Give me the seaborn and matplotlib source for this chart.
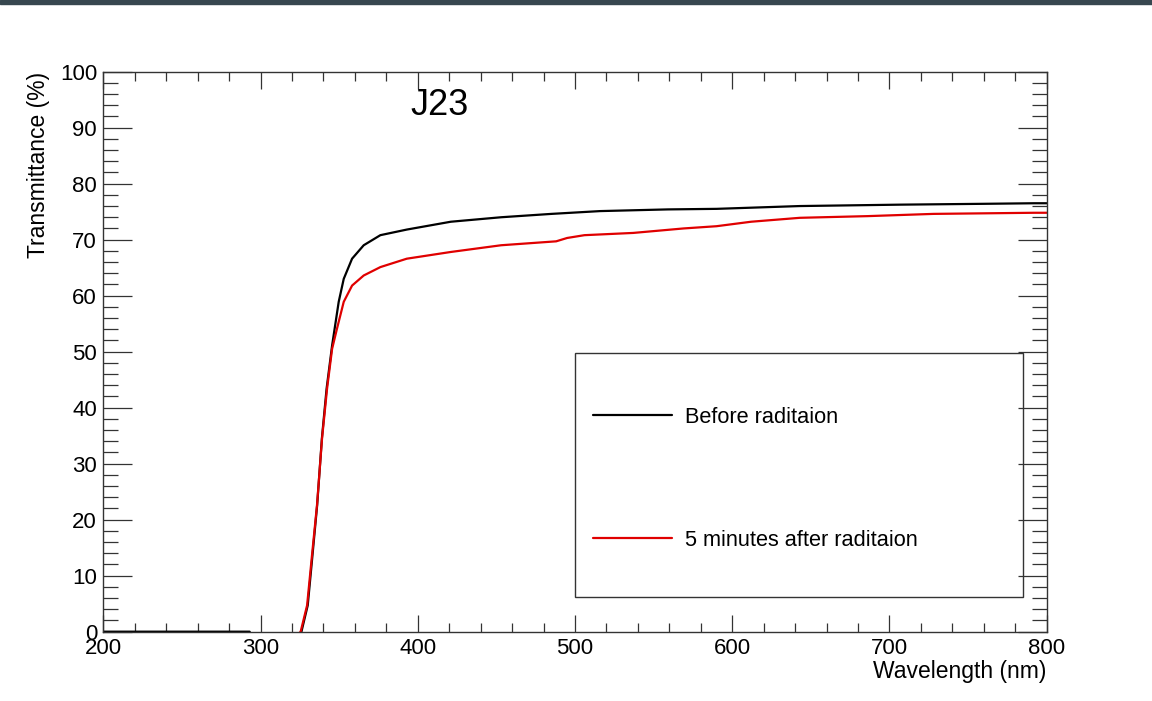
import numpy as np
import pandas as pd
import matplotlib
matplotlib.use("Agg")
import matplotlib.pyplot as plt
import seaborn as sns
from matplotlib.ticker import MultipleLocator
from matplotlib.patches import Rectangle

# Donnees (longueur d'onde en nm, transmittance en %)
wl_before = [200, 293, 295, 324, 326, 330, 333, 336, 339, 342, 345.5, 349.7, 352.9,
             358.2, 365.6, 376.2, 393, 421, 453, 485, 516, 559, 590, 643, 707, 760, 792, 800]
t_before = [0, 0, -1, -1, 0, 4.7, 13.6, 22.6, 34.5, 43.4, 51.1, 58.9, 63.0,
            66.6, 69.0, 70.8, 71.8, 73.2, 74.0, 74.6, 75.1, 75.4, 75.5, 76.0, 76.25, 76.4, 76.5, 76.5]

wl_after = [322, 325.5, 329.6, 332.7, 335.9, 339.1, 342.3, 345.5, 348.6, 352.9, 358.2,
            365.6, 376.2, 393, 421, 453, 488, 495, 506, 537, 569, 590, 612, 643, 686, 728, 792, 800]
t_after = [-1, 0, 4.7, 13.6, 22.6, 34.5, 43.4, 50.5, 54.1, 58.9, 61.8,
           63.6, 65.1, 66.6, 67.8, 69.0, 69.7, 70.3, 70.8, 71.2, 72.0, 72.4, 73.2, 73.9, 74.2, 74.6, 74.8, 74.8]

labels = ["Before raditaion", "5 minutes after raditaion"]
colors = ["black", "#e00000"]

df_before = pd.DataFrame({"wl": wl_before, "T": t_before})
df_after = pd.DataFrame({"wl": wl_after, "T": t_after})

sns.set_style("ticks")
plt.rcParams["font.family"] = ["Liberation Sans", "DejaVu Sans"]
plt.rcParams["text.color"] = "black"
plt.rcParams["axes.labelcolor"] = "black"

fig = plt.figure(figsize=(11.52, 7.01), dpi=100)
ax = fig.add_axes([0.0897, 0.0989, 0.8189, 0.7989])

# bandeau sombre en haut
fig.patches.append(Rectangle((0, 1 - 3.5 / 701), 1, 3.5 / 701, transform=fig.transFigure,
                             color="#37474f", zorder=10))

sns.lineplot(data=df_before, x="wl", y="T", color=colors[0], lw=1.6, label=labels[0],
             sort=False, estimator=None, ax=ax)
sns.lineplot(data=df_after, x="wl", y="T", color=colors[1], lw=1.6, label=labels[1],
             sort=False, estimator=None, ax=ax)

ax.set_xlim(200, 800)
ax.set_ylim(0, 100)
ax.xaxis.set_major_locator(MultipleLocator(100))
ax.xaxis.set_minor_locator(MultipleLocator(20))
ax.yaxis.set_major_locator(MultipleLocator(10))
ax.yaxis.set_minor_locator(MultipleLocator(2))

for s in ax.spines.values():
    s.set_visible(True)
    s.set_color("#333333")
    s.set_linewidth(1.0)

ax.tick_params(axis="both", which="both", direction="in", top=True, right=True,
               colors="#333333", labelcolor="black", width=0.9)
ax.tick_params(axis="x", which="major", length=12, pad=4.5, labelsize=16)
ax.tick_params(axis="x", which="minor", length=6.5)
ax.tick_params(axis="y", which="major", length=21, pad=4.5, labelsize=16)
ax.tick_params(axis="y", which="minor", length=11)

ax.set_xlabel("Wavelength (nm)", fontsize=16.5, loc="right", labelpad=0.5)
ax.set_ylabel("Transmittance (%)", fontsize=16.5, loc="top", labelpad=7)

ax.text(414, 94, "J23", fontsize=26, ha="center", va="center")

# cadre de la legende
ax.add_patch(Rectangle((500, 6.25), 285, 43.45, fill=False, edgecolor="#333333", lw=1.0, zorder=5))
leg = ax.legend(loc="center left", bbox_to_anchor=(581.7 / 1152, 1 - 478.7 / 701),
                bbox_transform=fig.transFigure, frameon=False, fontsize=15.7,
                borderpad=0, handlelength=3.63, handletextpad=0.6, labelspacing=4.69)
for h in leg.get_lines():
    h.set_linewidth(1.6)

fig.savefig("out.png", dpi=100)
